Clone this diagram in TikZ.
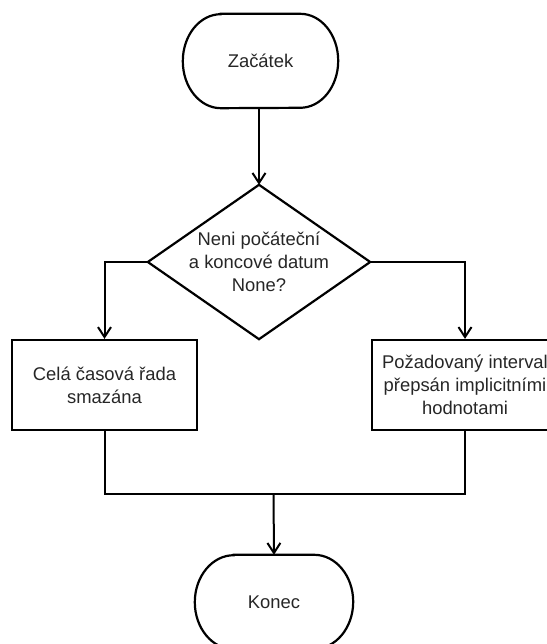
\documentclass[tikz,border=0pt]{standalone}
\usepackage{fontspec}
\setmainfont{Liberation Sans}
\usetikzlibrary{arrows.meta}
\begin{document}
\begin{tikzpicture}[x=1bp,y=1bp,
  conn/.style={line width=2bp, -{Straight Barb[length=10bp,width=13bp,line width=2bp]}},
  seg/.style={line width=2bp},
  outline/.style={line width=2.2bp, line join=miter},
  txt/.style={inner sep=0pt, align=center, text=black!85,
    font=\fontsize{18.4bp}{23bp}\selectfont},
  term/.style={txt, minimum width=155bp, minimum height=94bp},
  procbox/.style={txt, draw, line width=2.2bp, minimum width=185bp, minimum height=90bp},
  decide/.style={txt, minimum width=222bp, minimum height=154bp}]
\useasboundingbox (0,0) rectangle (547,644);

% terminals, decision and processing steps
\node[term] (start) at (260.5,583) {Začátek};
\node[decide] (dec) at (259,382) {Neni počáteční\\a koncové datum\\None?};
\node[procbox] (left) at (104.5,259) {Celá časová řada\\smazána};
\node[procbox, minimum width=186bp] (right) at (465,259) {Požadovaný interval\\přepsán implicitními\\hodnotami};
\node[term, minimum width=158bp] (end) at (274,42) {Konec};

% rounded terminal outlines
\foreach \n/\r in {start/38, end/39}{
  \draw[outline] ([xshift=\r bp]\n.north west) -- ([xshift=-\r bp]\n.north east)
    arc[start angle=90, end angle=-90, x radius=\r bp, y radius=47bp]
    -- ([xshift=\r bp]\n.south west)
    arc[start angle=270, end angle=90, x radius=\r bp, y radius=47bp] -- cycle;
}

% decision diamond
\draw[outline] (dec.north) -- (dec.east) -- (dec.south) -- (dec.west) -- cycle;

% connectors
\draw[conn] (start.south -| dec.north) -- (dec.north);
\draw[conn] (dec.west) -| (left.north);
\draw[conn] (dec.east) -| (right.north);
\coordinate (merge) at (273.5,150);
\draw[seg] (left.south) |- (merge) -| (right.south);
\draw[conn] (merge) -- (end.north);
\end{tikzpicture}
\end{document}
